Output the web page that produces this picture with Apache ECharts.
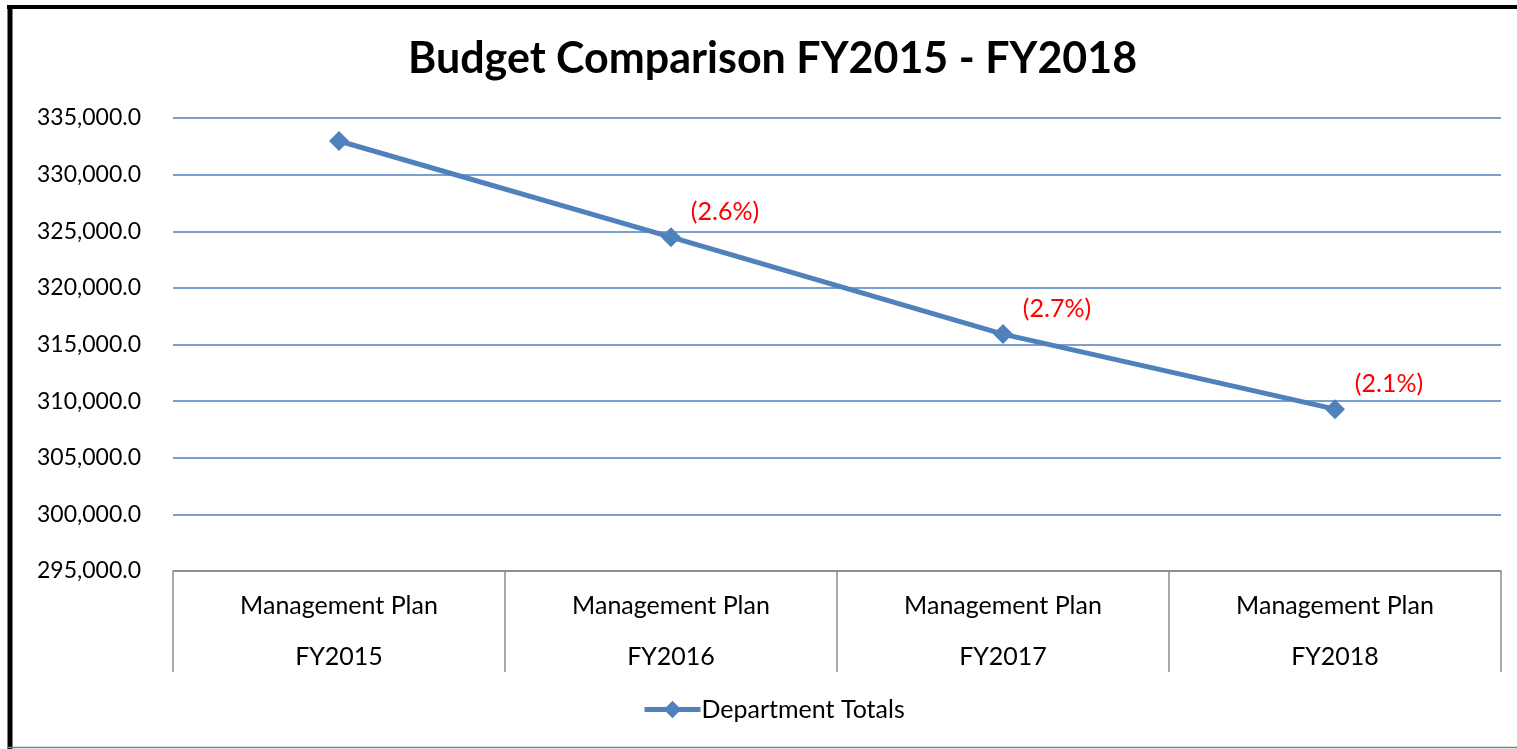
<!DOCTYPE html>
<html>
<head>
<meta charset="utf-8">
<script src="https://cdn.jsdelivr.net/npm/echarts@6/dist/echarts.min.js"></script>
<style>html,body{margin:0;padding:0;background:#fff}#c{width:1517px;height:749px}</style>
</head>
<body>
<div id="c"></div>
<script>
var categories = ['Management Plan\nFY2015', 'Management Plan\nFY2016', 'Management Plan\nFY2017', 'Management Plan\nFY2018'];
var totals = [332970, 324480, 315920, 309290];
var changeLabels = ['', '(2.6%)', '(2.7%)', '(2.1%)'];
var seriesName = 'Department Totals';
var titleText = 'Budget Comparison FY2015 - FY2018';

var FONT = 'Lato, "Open Sans", sans-serif';
var chart = echarts.init(document.getElementById('c'));
chart.setOption({
  animation: false,
  backgroundColor: '#fff',
  title: {
    text: titleText, left: 403, top: 33,
    textStyle: { fontFamily: FONT, fontSize: 43, fontWeight: 'bold', color: '#000' }
  },
  legend: {
    bottom: 22, left: 637, itemWidth: 56, itemHeight: 22, itemGap: 4,
    textStyle: { fontFamily: FONT, fontSize: 25, color: '#000', padding: [0, 0, 0, -4] },
    lineStyle: { width: 5 },
    data: [seriesName]
  },
  grid: { left: 173, right: 16, top: 118, bottom: 178 },
  xAxis: {
    type: 'category', data: categories, boundaryGap: true,
    axisLine: { lineStyle: { color: '#8c8c8c', width: 1.5 } },
    axisTick: { show: true, length: 101, interval: 0, lineStyle: { color: '#8c8c8c', width: 1.5 } },
    axisLabel: { interval: 0, margin: 9, fontFamily: FONT, fontSize: 25, color: '#000', lineHeight: 51 }
  },
  yAxis: {
    type: 'value', min: 295000, max: 335000, interval: 5000,
    axisLine: { show: false }, axisTick: { show: false },
    splitLine: { lineStyle: { color: '#4F81BD', width: 1.5 } },
    axisLabel: {
      margin: 32, fontFamily: FONT, fontSize: 23, color: '#000',
      formatter: function (v) { return v.toLocaleString('en-US', { minimumFractionDigits: 1, maximumFractionDigits: 1 }); }
    }
  },
  series: [{
    name: seriesName, type: 'line', data: totals,
    symbol: 'diamond', symbolSize: 20,
    lineStyle: { color: '#4F81BD', width: 5 },
    itemStyle: { color: '#4F81BD' },
    label: {
      show: true, position: 'inside', offset: [54, -25],
      fontFamily: FONT, fontSize: 25, color: '#FF0000',
      formatter: function (p) { return changeLabels[p.dataIndex]; }
    }
  }],
  graphic: [
    { type: 'line', shape: { x1: 7, y1: 7, x2: 1517, y2: 7 }, style: { stroke: '#000', lineWidth: 4 } },
    { type: 'line', shape: { x1: 10, y1: 5, x2: 10, y2: 749 }, style: { stroke: '#000', lineWidth: 5 } },
    { type: 'line', shape: { x1: 8, y1: 747.5, x2: 1517, y2: 747.5 }, style: { stroke: '#808080', lineWidth: 1.5 } }
  ]
});
</script>
</body>
</html>
